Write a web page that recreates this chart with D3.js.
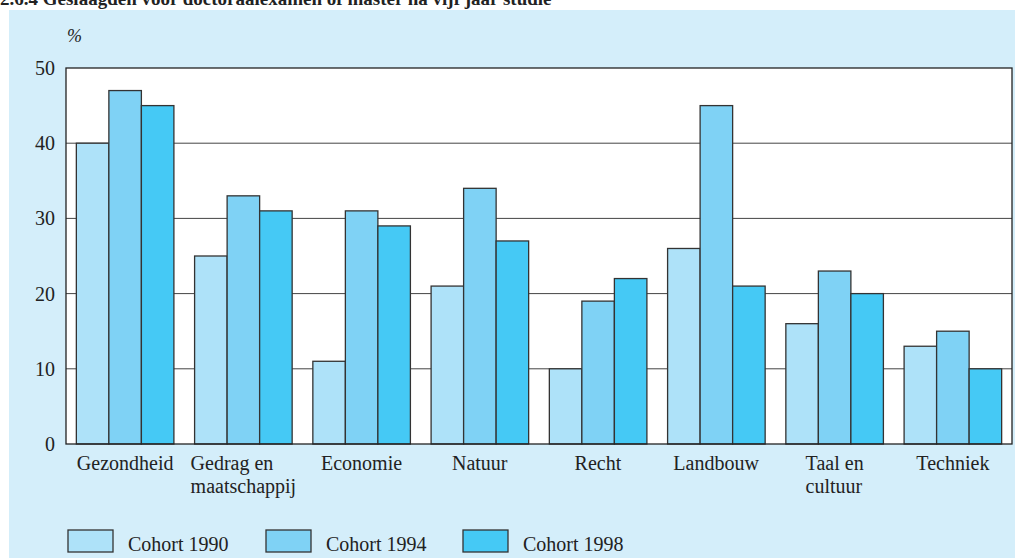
<!DOCTYPE html>
<html lang="nl">
  <head>
    <meta charset="UTF-8" />
    <title>Geslaagden voor doctoraalexamen of master na vijf jaar studie</title>
    <script src="https://d3js.org/d3.v7.min.js"></script>
    <style>
      body {
        margin: 0;
        background: #fff;
      }
      svg text {
        font-family: 'Liberation Serif', 'DejaVu Serif', serif;
      }
      .axis text {
        font-size: 20px;
        fill: #222;
      }
    </style>
  </head>
  <body>
    <div id="chart"></div>
    <script>
      // data
      const categories = [
        ['Gezondheid'],
        ['Gedrag en', 'maatschappij'],
        ['Economie'],
        ['Natuur'],
        ['Recht'],
        ['Landbouw'],
        ['Taal en', 'cultuur'],
        ['Techniek'],
      ];
      const series = ['Cohort 1990', 'Cohort 1994', 'Cohort 1998'];
      const cohort1990 = [40, 25, 11, 21, 10, 26, 16, 13];
      const cohort1994 = [47, 33, 31, 34, 19, 45, 23, 15];
      const cohort1998 = [45, 31, 29, 27, 22, 21, 20, 10];
      const yTicks = [0, 10, 20, 30, 40, 50];
      const colors = ['#aee2f9', '#7fd2f5', '#45c9f5'];

      const values = [cohort1990, cohort1994, cohort1998];
      const W = 1015, H = 558;
      const plot = { left: 66, right: 1012, top: 68, bottom: 444 };

      const svg = d3
        .select('#chart')
        .append('svg')
        .attr('width', W)
        .attr('height', H);

      // title (the reference shows it cut off at the top)
      svg
        .append('text')
        .attr('x', 0)
        .attr('y', 5)
        .attr('font-size', 19)
        .attr('font-weight', 'bold')
        .attr('fill', '#222')
        .text('2.6.4  Geslaagden voor doctoraalexamen of master na vijf jaar studie');

      // light blue panel
      svg
        .append('rect')
        .attr('x', 9)
        .attr('y', 10)
        .attr('width', W - 9)
        .attr('height', H - 10)
        .attr('fill', '#d4eefa');

      const x0 = d3
        .scaleBand()
        .domain(d3.range(categories.length))
        .range([plot.left, plot.right])
        .paddingInner(0.175)
        .paddingOuter(0.0875);
      const x1 = d3
        .scaleBand()
        .domain(d3.range(series.length))
        .range([0, x0.bandwidth()]);
      const y = d3
        .scaleLinear()
        .domain([0, 50])
        .range([plot.bottom, plot.top]);

      // white plot area
      svg
        .append('rect')
        .attr('x', plot.left)
        .attr('y', plot.top)
        .attr('width', plot.right - plot.left)
        .attr('height', plot.bottom - plot.top)
        .attr('fill', '#fff');

      // gridlines
      svg
        .append('g')
        .selectAll('line')
        .data(yTicks.slice(1, -1))
        .join('line')
        .attr('x1', plot.left)
        .attr('x2', plot.right)
        .attr('y1', (d) => y(d))
        .attr('y2', (d) => y(d))
        .attr('stroke', '#444')
        .attr('stroke-width', 1);

      // bars
      const groups = svg
        .append('g')
        .selectAll('g')
        .data(categories)
        .join('g')
        .attr('transform', (d, i) => `translate(${x0(i)},0)`);
      groups
        .selectAll('rect')
        .data((d, i) => values.map((s, k) => ({ k, v: s[i] })))
        .join('rect')
        .attr('x', (d) => x1(d.k))
        .attr('y', (d) => y(d.v))
        .attr('width', x1.bandwidth())
        .attr('height', (d) => y(0) - y(d.v))
        .attr('fill', (d) => colors[d.k])
        .attr('stroke', '#333')
        .attr('stroke-width', 1.3);

      // frame
      svg
        .append('rect')
        .attr('x', plot.left)
        .attr('y', plot.top)
        .attr('width', plot.right - plot.left)
        .attr('height', plot.bottom - plot.top)
        .attr('fill', 'none')
        .attr('stroke', '#222')
        .attr('stroke-width', 1.3);

      // y axis labels
      const yAxis = svg
        .append('g')
        .attr('class', 'axis')
        .attr('transform', `translate(${plot.left},0)`)
        .call(d3.axisLeft(y).tickValues(yTicks).tickSize(0).tickPadding(11));
      yAxis.attr('font-family', null);
      yAxis.select('.domain').remove();

      svg
        .append('text')
        .attr('x', 67)
        .attr('y', 42)
        .attr('font-size', 18)
        .attr('font-style', 'italic')
        .attr('fill', '#222')
        .text('%');

      // category labels: multi-line left-aligned block centered under group
      groups.each(function (d, i) {
        const g = d3.select(this);
        const t = g
          .append('text')
          .attr('font-size', 20)
          .attr('fill', '#222');
        d.forEach((line, j) => {
          t.append('tspan')
            .attr('x', 0)
            .attr('y', 470 + j * 23)
            .text(line);
        });
        const bb = t.node().getBBox();
        t.attr('transform', `translate(${x0.bandwidth() / 2 - bb.width / 2},0)`);
      });

      // legend
      const legendX = [68, 266, 463];
      const legend = svg
        .append('g')
        .selectAll('g')
        .data(series)
        .join('g')
        .attr('transform', (d, i) => `translate(${legendX[i]},530)`);
      legend
        .append('rect')
        .attr('width', 45)
        .attr('height', 22)
        .attr('fill', (d, i) => colors[i])
        .attr('stroke', '#333')
        .attr('stroke-width', 1.3);
      legend
        .append('text')
        .attr('x', 60)
        .attr('y', 21)
        .attr('font-size', 20)
        .attr('fill', '#222')
        .text((d) => d);
    </script>
  </body>
</html>
